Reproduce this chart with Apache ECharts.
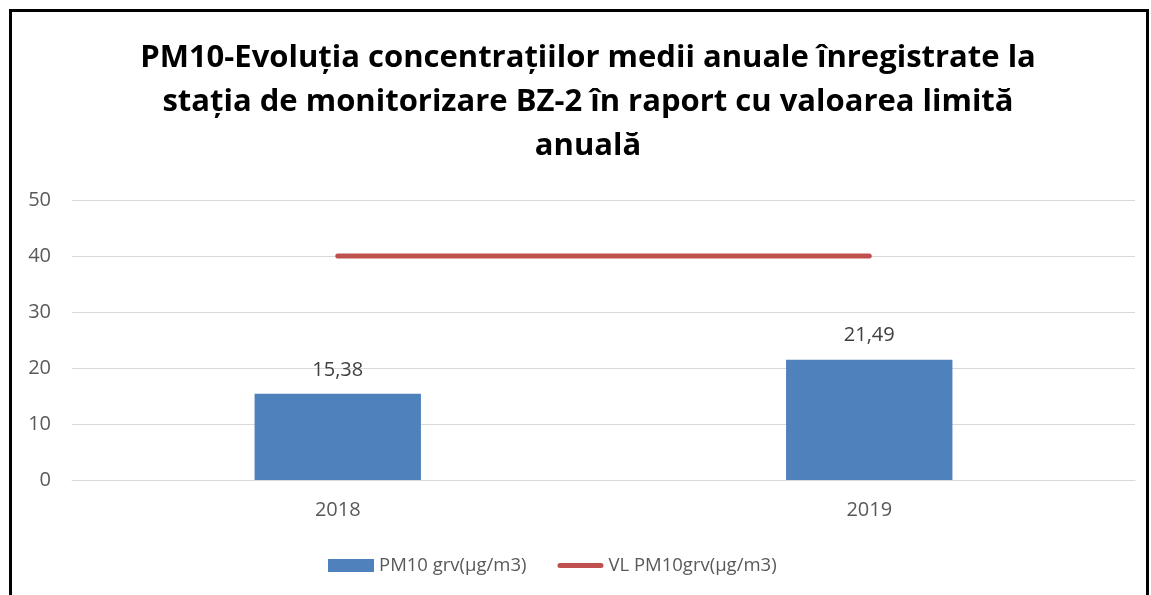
<!DOCTYPE html>
<html>
<head>
<meta charset="utf-8">
<script src="https://cdn.jsdelivr.net/npm/echarts@6/dist/echarts.min.js"></script>
<style>
    html, body { margin: 0; padding: 0; background: #fff; }
    #frame {
        position: absolute; left: 9px; top: 9px; width: 1134px; height: 600px;
        border: 3px solid #000; border-bottom: none;
    }
    #chart { position: absolute; left: 0; top: 0; width: 1151px; height: 595px; }
</style>
</head>
<body>
<div id="frame"></div>
<div id="chart"></div>
<script>
    // date din grafic
    var years = ['2018', '2019'];
    var pm10Values = [15.38, 21.49];
    var limitValues = [40, 40];
    var yTicks = [0, 10, 20, 30, 40, 50];

    var chart = echarts.init(document.getElementById('chart'));
    var fontFam = '"Open Sans", Lato, sans-serif';

    chart.setOption({
        animation: false,
        title: {
            text: 'PM10-Evoluția concentrațiilor medii anuale înregistrate la\nstația de monitorizare BZ-2 în raport cu valoarea limită\nanuală',
            left: 583,
            textAlign: 'center',
            top: 31,
            textStyle: {
                fontFamily: fontFam,
                fontWeight: 'bold',
                fontSize: 31,
                lineHeight: 44,
                color: '#000'
            }
        },
        grid: { left: 72, right: 16, top: 200, bottom: 115, containLabel: false },
        legend: {
            top: 551,
            left: 323,
            itemGap: 31,
            itemWidth: 46,
            itemHeight: 13,
            textStyle: { fontFamily: fontFam, fontSize: 18.5, color: '#595959' },
            data: [
                { name: 'PM10 grv(µg/m3)', icon: 'rect' },
                // linie groasa cu capete rotunjite
                { name: 'VL PM10grv(µg/m3)', icon: 'path://M2.5,0 H43.5 A2.5,2.5 0 0 1 43.5,5 H2.5 A2.5,2.5 0 0 1 2.5,0 Z', itemStyle: { color: '#C0504D' } }
            ]
        },
        xAxis: {
            type: 'category',
            data: years,
            axisLine: { lineStyle: { color: '#d9d9d9', width: 1 } },
            axisTick: { show: false },
            axisLabel: { fontFamily: fontFam, fontSize: 20, color: '#595959', margin: 20 }
        },
        yAxis: {
            type: 'value',
            min: yTicks[0],
            max: yTicks[yTicks.length - 1],
            interval: 10,
            axisLine: { show: false },
            axisTick: { show: false },
            axisLabel: { fontFamily: fontFam, fontSize: 20, color: '#595959', margin: 21 },
            splitLine: { lineStyle: { color: '#d9d9d9', width: 1 } }
        },
        series: [
            {
                name: 'PM10 grv(µg/m3)',
                type: 'bar',
                data: pm10Values,
                barWidth: '31.3%',
                itemStyle: { color: '#4F81BD' },
                label: {
                    show: true,
                    position: 'top',
                    distance: 14,
                    fontFamily: fontFam,
                    fontSize: 20,
                    color: '#404040',
                    formatter: function (p) {
                        return p.value.toFixed(2).replace('.', ',');
                    }
                }
            },
            {
                name: 'VL PM10grv(µg/m3)',
                type: 'line',
                data: limitValues,
                symbol: 'none',
                lineStyle: { color: '#C0504D', width: 5, cap: 'round' },
                itemStyle: { color: '#C0504D' }
            }
        ]
    });
</script>
</body>
</html>
